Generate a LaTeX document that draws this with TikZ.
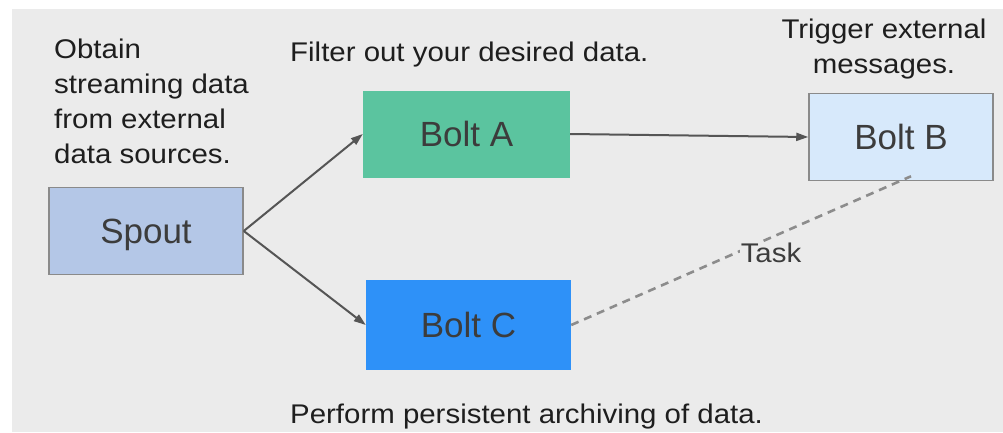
\documentclass[tikz,border=0pt]{standalone}
\usepackage{fontspec}
\setmainfont{Liberation Sans}
\newfontfamily\capfam[FakeStretch=1.09]{Liberation Sans}
\usetikzlibrary{arrows.meta}
\definecolor{bggray}{HTML}{EBEBEB}
\definecolor{spoutfill}{HTML}{B4C7E7}
\definecolor{boltafill}{HTML}{5BC49F}
\definecolor{boltbfill}{HTML}{D7E9FB}
\definecolor{boltcfill}{HTML}{2E91F8}
\definecolor{edgegray}{HTML}{8A8A8A}
\definecolor{linegray}{HTML}{555555}
\definecolor{dashgray}{HTML}{8C8C8C}
\definecolor{labelgray}{HTML}{3C3C3C}
\definecolor{captext}{HTML}{1E1E1E}
\tikzset{
  boxlabel/.style={font=\fontsize{35}{40}\selectfont, text=labelgray, inner sep=0pt,
                   text height=25pt, text depth=0pt},
  stormbox/.style={rectangle, boxlabel},
  caption/.style={font=\capfam\fontsize{27}{35}\selectfont, text=captext, inner sep=0pt},
  flow/.style={draw=linegray, line width=2pt, -{Triangle[length=12pt,width=8pt]}},
  taskline/.style={draw=dashgray, line width=2.6pt, dash pattern=on 8pt off 6pt},
}
\begin{document}
\begin{tikzpicture}[x=1pt,y=-1pt]
\useasboundingbox (0,0) rectangle (1003,432);
\fill[white] (0,0) rectangle (1003,432);
\fill[bggray] (12,9) rectangle (1003,432);

\node[stormbox, fill=spoutfill, draw=edgegray, line width=1.5pt,
      minimum width=194pt, minimum height=87pt] (spout) at (146,231) {Spout};
\node[stormbox, fill=boltafill, minimum width=207pt, minimum height=87pt] (a) at (466.5,134) {Bolt A};
\node[stormbox, fill=boltbfill, draw=edgegray, line width=1.5pt,
      minimum width=184pt, minimum height=87pt] (b) at (901,137) {Bolt B};
\node[stormbox, fill=boltcfill, minimum width=205pt, minimum height=90pt] (c) at (468.5,325) {Bolt C};

\node[caption, align=left, anchor=north west] (obtain) at (54,39)
  {Obtain\\streaming data\\from external\\data sources.};
\node[caption, anchor=base west] (filter) at (290,61.5) {Filter out your desired data.};
\node[caption, align=center, anchor=north] (trigger) at (884,19) {Trigger external\\messages.};
\node[caption, anchor=base west] (perform) at (290,423) {Perform persistent archiving of data.};

\draw[flow] (spout.east) -- (a.west);
\draw[flow] (spout.east) -- (c.west);
\draw[flow] (a.east) -- (b.west);
\coordinate (bend) at ([xshift=10pt,yshift=5pt]b.south);
\draw[taskline] (c.east) -- (bend);
\node[caption, text=labelgray, fill=bggray, inner sep=1pt] (task) at (771,253) {Task};
\end{tikzpicture}
\end{document}
